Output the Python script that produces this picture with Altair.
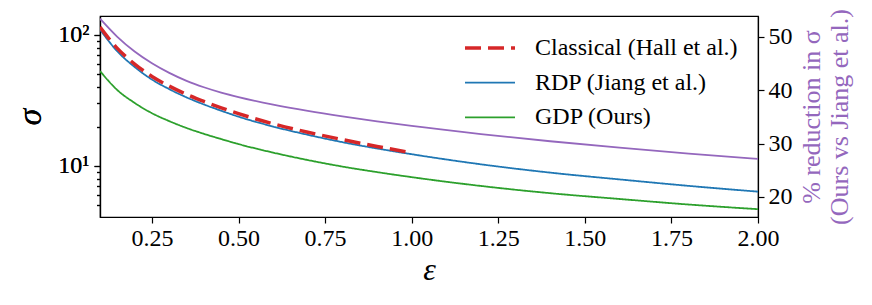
import altair as alt
import pandas as pd

# epsilon grid (x)
eps = [0.1, 0.15, 0.2, 0.25, 0.3, 0.35, 0.4, 0.45, 0.5, 0.6, 0.7, 0.8, 0.9, 1.0,
       1.2, 1.4, 1.6, 1.8, 2.0]
# sigma values
rdp = [110, 75, 57, 45.7, 38.6, 33.4, 29.5, 26.4, 23.8, 20.0, 17.3, 15.2, 13.6, 12.3,
       10.3, 8.9, 7.9, 7.05, 6.37]
gdp = [53, 38.0, 30.3, 25.3, 22.0, 19.5, 17.6, 16.05, 14.7, 12.65, 11.1, 9.9, 8.98, 8.22,
       7.04, 6.2, 5.6, 5.08, 4.68]
eps_classical = [0.1, 0.15, 0.2, 0.25, 0.3, 0.35, 0.4, 0.45, 0.5, 0.6, 0.7, 0.8, 0.9, 1.0]
classical = [115, 79, 60, 48.2, 40.7, 35.2, 31.1, 27.8, 25.1, 21.0, 18.1, 15.9, 14.1, 12.6]
# % reduction in sigma (right axis)
reduction = [53.4, 50.0, 47.25, 45.05, 43.25, 41.75, 40.55, 39.55, 38.7, 37.3, 36.12, 35.09,
             34.16, 33.3, 31.78, 30.44, 29.24, 28.14, 27.12]

methods = ["Classical (Hall et al.)", "RDP (Jiang et al.)", "GDP (Ours)"]
colors = ["#d62728", "#1f77b4", "#2ca02c"]
purple = "#9467bd"
FONT = "Liberation Serif"
FS = 24

rows = []
for e, v in zip(eps, rdp):
    rows.append({"eps": e, "sigma": v, "method": methods[1]})
for e, v in zip(eps, gdp):
    rows.append({"eps": e, "sigma": v, "method": methods[2]})
for e, v in zip(eps_classical, classical):
    rows.append({"eps": e, "sigma": v, "method": methods[0]})
df = pd.DataFrame(rows)
red_df = pd.DataFrame({"eps": eps, "red": reduction})

legend = alt.Legend(
    title=None, orient="none", legendX=363, legendY=20, padding=0,
    clipHeight=24, rowPadding=10.7, labelFont=FONT, labelFontSize=FS,
    labelColor="black", labelOffset=18, labelLimit=500,
    symbolType="stroke", symbolSize=2500,
)

xenc = alt.X(
    "eps:Q",
    scale=alt.Scale(domain=[0.1, 2.0], nice=False, zero=False),
    axis=alt.Axis(
        values=[0.25, 0.5, 0.75, 1.0, 1.25, 1.5, 1.75, 2.0], format=".2f",
        labelFont=FONT, labelFontSize=FS, labelPadding=3, labelFlush=False,
        title="ε", titleFont=FONT, titleFontStyle="italic", titleFontSize=32, titlePadding=4,
    ),
)

major_test = "datum.value == 10 || datum.value == 100"
yenc = alt.Y(
    "sigma:Q",
    scale=alt.Scale(type="log", domain=[4.08, 139.6], nice=False),
    axis=alt.Axis(
        values=[5, 6, 7, 8, 9, 10, 20, 30, 40, 50, 60, 70, 80, 90, 100],
        labelExpr="datum.value == 10 ? '10¹' : (datum.value == 100 ? '10²' : '')",
        tickSize={"condition": {"test": major_test, "value": 6}, "value": 3.5},
        labelFont=FONT, labelFontSize=FS, labelOverlap=False, labelPadding=5,
        title="σ", titleFont=FONT, titleFontStyle="italic", titleFontSize=34, titlePadding=10,
    ),
)

dash_scale = alt.Scale(domain=methods, range=[[16, 7], [1, 0], [1, 0]])
width_scale = alt.Scale(type="ordinal", domain=methods, range=[3.5, 1.8, 1.8])

base = alt.Chart(df).encode(
    x=xenc,
    y=yenc,
    color=alt.Color("method:N", scale=alt.Scale(domain=methods, range=colors), legend=legend),
    strokeDash=alt.StrokeDash("method:N", scale=dash_scale, legend=legend),
    strokeWidth=alt.StrokeWidth("method:N", scale=width_scale, legend=legend),
)

bg = base.transform_filter(alt.datum.method != methods[0]).mark_line(interpolate="monotone", clip=True)
fg = base.transform_filter(alt.datum.method == methods[0]).mark_line(interpolate="monotone", clip=True)

right = alt.Chart(red_df).mark_line(color=purple, strokeWidth=1.8, interpolate="monotone", clip=True).encode(
    x=alt.X("eps:Q"),
    y=alt.Y(
        "red:Q",
        scale=alt.Scale(domain=[16.25, 53.9], nice=False, zero=False),
        axis=alt.Axis(
            orient="right", values=[20, 30, 40, 50], labelPadding=4, tickSize=6,
            labelFont=FONT, labelFontSize=FS,
            title=["% reduction in σ", "(Ours vs Jiang et al.)"], titleColor=purple,
            titleFont=FONT, titleAngle=270, titleFontSize=26, titleLineHeight=28, titlePadding=4,
        ),
    ),
)

chart = (
    alt.layer(right, bg, fg)
    .resolve_scale(y="independent")
    .properties(
        width=658, height=201,
        padding={"left": 92, "top": 8, "right": 106, "bottom": 80},
        autosize=alt.AutoSizeParams(type="none"),
    )
    .configure(font=FONT)
    .configure_view(stroke="black", strokeWidth=1.2)
    .configure_axis(
        labelFont=FONT, labelFontSize=FS, labelColor="black",
        titleFont=FONT, titleFontWeight="normal", titleColor="black",
        tickColor="black", tickWidth=1.2, tickSize=6, domainColor="black", domainWidth=1.2,
        grid=False,
    )
)

chart.save("out.html", embed_options={"renderer": "svg", "actions": False})
